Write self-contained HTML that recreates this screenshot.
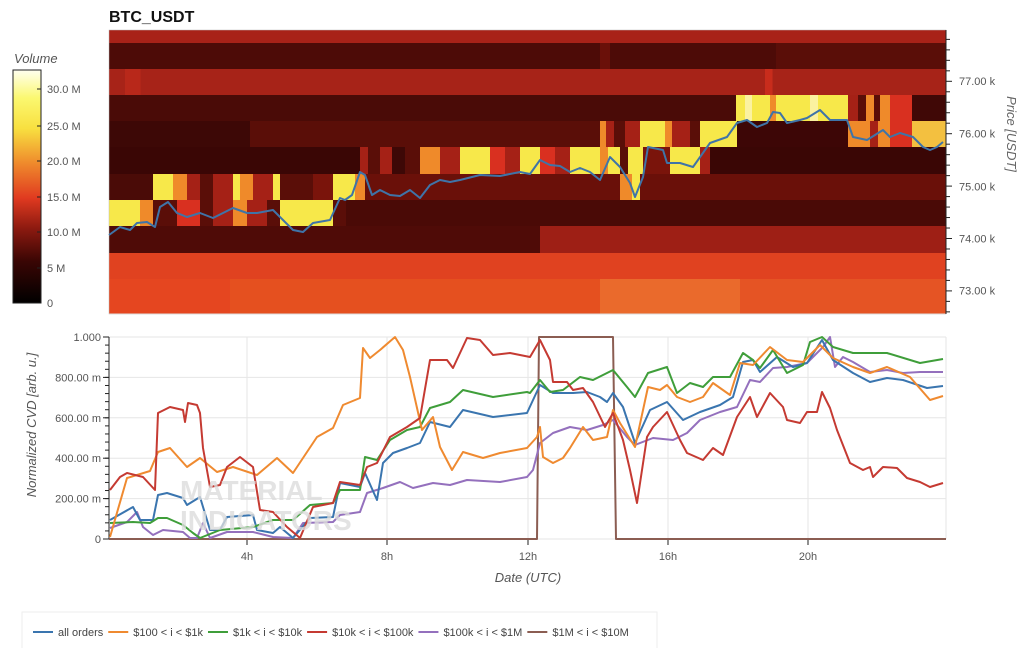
<!DOCTYPE html>
<html><head><meta charset="utf-8"><style>
body{margin:0;background:#fff;width:1023px;height:648px;overflow:hidden;font-family:"Liberation Sans",sans-serif}
svg text{font-family:"Liberation Sans",sans-serif}
</style></head><body>
<svg id="s" width="1023" height="648" xmlns="http://www.w3.org/2000/svg">
<defs>
<linearGradient id="cb" x1="0" y1="1" x2="0" y2="0">
<stop offset="0" stop-color="#000"/><stop offset="0.18" stop-color="#3a0604"/><stop offset="0.32" stop-color="#8c1a10"/><stop offset="0.45" stop-color="#e03a20"/><stop offset="0.6" stop-color="#ef8a2c"/><stop offset="0.75" stop-color="#f8e040"/><stop offset="0.88" stop-color="#fbf870"/><stop offset="1" stop-color="#fffff0"/>
</linearGradient>
</defs>
<text x="109" y="22" font-size="16" font-weight="bold" fill="#111">BTC_USDT</text>
<text x="14" y="63" font-size="13" font-style="italic" fill="#555">Volume</text>
<rect x="13" y="70" width="28" height="233" fill="url(#cb)" stroke="#222" stroke-width="1"/>
<g id="hm"></g>
<g id="price"></g>
<g id="cvd"></g>
</svg>
<script>
const NS="http://www.w3.org/2000/svg",s=document.getElementById('s');
function el(t,a,p){const e=document.createElementNS(NS,t);for(const k in a)e.setAttribute(k,a[k]);(p||s).appendChild(e);return e;}
function tx(x,y,t,a){const e=el('text',Object.assign({x:x,y:y,'font-size':11,fill:'#444'},a||{}));e.textContent=t;return e;}
// colorbar ticks
[["30.0 M",89],["25.0 M",126],["20.0 M",161],["15.0 M",197],["10.0 M",232],["5 M",268],["0",303]].forEach(([t,y])=>{el('line',{x1:37,x2:41,y1:y,y2:y,stroke:'#222'});tx(47,y+4,t,{fill:'#555'});});
const hm=document.getElementById('hm');
const D='#3d0806',M='#5a0e08',R='#a52116',B='#d93020',O='#ef8a2a',Y='#f7e84a',W='#fbf2a0',K='#7a140b';
const rows=[
[30,43,[[109,946,'#a82218']]],
[43,69,[[109,600,'#4d0b07'],[600,610,'#6a1009'],[610,776,'#4d0b07'],[776,946,'#5a0e08']]],
[69,95,[[109,946,'#a72318'],[125,140,'#b8281a'],[620,625,B],[765,772,B],[600,946,'#a72318'],[765,772,'#c82c1c']]],
[95,121,[[109,736,'#4a0b07'],[736,745,Y],[745,752,W],[752,770,Y],[770,776,O],[776,810,Y],[810,818,W],[818,848,Y],[848,858,R],[858,866,M],[866,874,O],[874,880,M],[880,890,O],[890,912,B],[912,946,'#400806']]],
[121,147,[[109,250,D],[250,600,M],[600,606,O],[606,614,R],[614,625,M],[625,640,R],[640,665,Y],[665,672,O],[672,690,R],[690,700,M],[700,737,Y],[737,848,'#3d0606'],[848,870,O],[870,878,R],[878,890,O],[890,912,B],[912,946,'#f3c040']]],
[147,174,[[109,360,'#3a0605'],[360,368,R],[368,380,M],[380,392,R],[392,405,D],[405,420,M],[420,440,O],[440,460,R],[460,490,Y],[490,505,B],[505,520,R],[520,540,Y],[540,555,B],[555,570,R],[570,600,Y],[600,608,O],[608,620,Y],[620,628,M],[628,643,Y],[643,670,K],[670,700,Y],[700,710,R],[710,946,'#3a0605']]],
[174,200,[[109,153,'#4a0b07'],[153,173,Y],[173,187,O],[187,200,R],[200,213,M],[213,233,R],[233,240,Y],[240,253,O],[253,273,R],[273,280,Y],[280,313,M],[313,333,K],[333,355,Y],[355,365,O],[365,620,'#6a1009'],[620,632,O],[632,640,Y],[640,946,'#6a1009']]],
[200,226,[[109,140,Y],[140,153,O],[153,177,M],[177,200,B],[200,213,M],[213,233,R],[233,247,O],[247,267,R],[267,280,M],[280,333,Y],[333,346,M],[346,946,'#4a0a06']]],
[226,253,[[109,540,'#4f0b07'],[540,946,'#9e1f15']]],
[253,279,[[109,946,'#e04220']]],
[279,313,[[109,230,'#e54620'],[230,600,'#e5501f'],[600,740,'#ea6a2c'],[740,946,'#e55424']]]];
rows.forEach(([y1,y2,segs])=>segs.forEach(([a,b,c])=>el('rect',{x:a,y:y1,width:b-a+0.5,height:y2-y1+0.5,fill:c},hm)));
el('rect',{x:109,y:30,width:837,height:284,fill:'none',stroke:'#bbb','stroke-width':0.5},hm);
// price axis
el('line',{x1:946,x2:946,y1:30,y2:314,stroke:'#222'});
for(let p=72600;p<=77900;p+=200){const y=133.7-(p-76000)*0.0524;el('line',{x1:946,x2:(p%1000==0?952:950),y1:y,y2:y,stroke:'#222'});}
[[77,81],[76,133.7],[75,186.3],[74,238.5],[73,290.7]].forEach(([p,y])=>tx(959,y+4,p+'.00 k',{fill:'#555'}));
const pt=tx(0,0,'Price [USDT]',{'font-size':13,'font-style':'italic',fill:'#666',transform:'translate(1007,134) rotate(90)','text-anchor':'middle'});
function pl(pts,c,w,g){el('polyline',{points:pts.map(p=>p.join(',')).join(' '),fill:'none',stroke:c,'stroke-width':w||2,'stroke-linejoin':'round'},g);}
pl([[109,235],[120,227],[130,230],[137,223],[147,222],[155,227],[160,207],[168,202],[177,213],[187,217],[200,213],[213,218],[233,208],[247,213],[257,213],[273,210],[283,220],[293,230],[303,232],[313,223],[330,220],[340,198],[345,200],[352,195],[360,172],[365,175],[372,195],[380,190],[390,195],[400,196],[410,190],[420,198],[430,185],[440,180],[450,182],[460,180],[480,175],[500,176],[520,172],[530,174],[540,160],[550,165],[560,166],[570,172],[580,168],[590,172],[600,180],[610,157],[620,167],[630,183],[635,197],[643,177],[648,147],[663,150],[667,163],[680,163],[693,167],[710,143],[727,137],[737,123],[747,120],[757,127],[767,123],[773,112],[780,113],[787,123],[800,120],[807,118],[820,110],[830,120],[847,120],[853,137],[867,140],[883,130],[890,137],[900,133],[913,137],[923,147],[930,150],[937,147],[943,142]],'#3f74a8',2,document.getElementById('price'));
// CVD axes
const g=document.getElementById('cvd');
[[337,'1.000'],[377.4,'800.00 m'],[417.8,'600.00 m'],[458.2,'400.00 m'],[498.6,'200.00 m'],[539,'0']].forEach(([y,t])=>{el('line',{x1:109,x2:946,y1:y,y2:y,stroke:'#e6e6e6'},g);tx(101,y+4,t,{'text-anchor':'end',fill:'#555'});el('line',{x1:103,x2:109,y1:y,y2:y,stroke:'#222'},g);});
for(let i=0;i<25;i++){const y=337+i*8.08;el('line',{x1:105,x2:109,y1:y,y2:y,stroke:'#222'},g);}
[[247,'4h'],[387,'8h'],[528,'12h'],[668,'16h'],[808,'20h']].forEach(([x,t])=>{el('line',{x1:x,x2:x,y1:337,y2:539,stroke:'#e6e6e6'},g);el('line',{x1:x,x2:x,y1:539,y2:545,stroke:'#222'},g);tx(x,560,t,{'text-anchor':'middle',fill:'#555'});});
el('line',{x1:946,x2:946,y1:337,y2:539,stroke:'#e6e6e6'},g);
el('line',{x1:109,x2:109,y1:337,y2:539,stroke:'#222'},g);
tx(180,500,'MATERIAL',{'font-size':28,'font-weight':'bold',fill:'#ddd',opacity:0.8},g);
tx(180,530,'INDICATORS',{'font-size':28,'font-weight':'bold',fill:'#ddd',opacity:0.8},g);
tx(528,582,'Date (UTC)',{'text-anchor':'middle','font-size':13,'font-style':'italic',fill:'#555'});
tx(0,0,'Normalized CVD [arb. u.]',{'font-size':13,'font-style':'italic',fill:'#555',transform:'translate(36,425) rotate(-90)','text-anchor':'middle'});
const C={b:'#3a75af',o:'#ef8a30',g:'#3f9e3a',r:'#c53a32',p:'#9470bd',n:'#8b5d52'};
pl([[109,539],[537,539],[539,337],[613,337],[616,539],[946,539]],C.n,2,g);
pl([[110,528],[127,522],[137,512],[143,527],[153,535],[163,530],[183,532],[190,538],[197,538],[203,523],[210,538],[227,532],[253,532],[273,537],[293,538],[303,523],[333,522],[340,515],[360,512],[367,493],[383,488],[400,482],[413,488],[433,483],[450,485],[467,480],[500,482],[527,477],[533,470],[540,443],[553,433],[570,427],[587,430],[603,425],[613,420],[627,437],[635,445],[653,438],[673,440],[687,433],[700,420],[720,412],[737,407],[750,380],[760,382],[773,368],[787,367],[807,363],[813,357],[823,347],[830,337],[835,367],[843,357],[853,362],[870,372],[887,370],[903,373],[920,372],[943,372]],C.p,2,g);
pl([[110,520],[133,507],[140,520],[153,520],[158,495],[167,493],[183,498],[187,505],[200,497],[210,530],[220,530],[227,517],[253,515],[257,530],[273,533],[280,527],[293,538],[310,518],[333,517],[340,483],[360,487],[365,473],[377,500],[383,463],[393,453],[407,448],[420,443],[430,422],[450,427],[463,410],[493,417],[527,413],[540,385],[553,393],[573,393],[587,392],[600,397],[607,402],[613,393],[623,407],[635,443],[650,410],[667,402],[683,420],[700,412],[720,405],[733,397],[743,362],[753,360],[760,372],[777,357],[793,367],[807,363],[822,340],[833,360],[853,373],[870,382],[887,378],[903,380],[927,388],[943,386]],C.b,2,g);
pl([[110,523],[133,522],[150,523],[158,518],[167,518],[183,525],[193,533],[200,538],[220,530],[253,527],[273,520],[293,520],[310,505],[333,503],[340,490],[360,490],[365,457],[377,460],[390,440],[407,430],[420,427],[430,408],[450,402],[463,390],[493,397],[527,392],[530,393],[540,380],[550,392],[563,390],[580,377],[593,380],[603,375],[613,370],[627,387],[635,397],[648,373],[667,367],[677,393],[690,383],[703,387],[713,377],[730,377],[743,353],[753,360],[760,368],[773,350],[787,373],[803,365],[810,342],[822,337],[833,347],[853,353],[887,353],[920,363],[943,359]],C.g,2,g);
pl([[110,537],[127,478],[150,471],[158,452],[170,448],[187,467],[200,458],[217,472],[233,467],[257,475],[277,458],[293,473],[317,437],[333,428],[343,405],[360,398],[363,348],[370,358],[380,350],[395,337],[403,350],[410,377],[422,430],[433,417],[440,447],[452,470],[463,452],[483,458],[500,453],[527,448],[537,437],[540,427],[543,457],[553,463],[563,458],[570,448],[583,427],[593,440],[607,437],[613,410],[620,423],[635,447],[648,387],[660,390],[667,385],[677,397],[690,402],[703,397],[713,383],[730,395],[740,363],[753,365],[770,347],[787,360],[803,362],[820,345],[833,358],[853,367],[870,373],[887,367],[910,377],[930,400],[943,396]],C.o,2,g);
pl([[110,490],[120,477],[127,473],[143,477],[155,490],[158,413],[170,407],[183,410],[185,422],[188,403],[197,405],[200,413],[203,448],[210,487],[220,485],[227,467],[240,457],[253,467],[260,510],[273,512],[287,527],[300,538],[313,507],[333,503],[340,482],[360,485],[367,467],[377,463],[390,437],[407,427],[420,418],[430,360],[447,360],[453,368],[467,338],[480,340],[493,355],[510,353],[530,357],[540,340],[550,360],[553,382],[567,382],[573,390],[583,388],[593,402],[605,427],[613,413],[623,440],[630,470],[637,503],[647,437],[653,427],[667,412],[680,440],[687,453],[703,460],[713,448],[723,455],[737,417],[750,397],[757,417],[770,393],[783,407],[787,420],[800,423],[807,412],[817,412],[822,392],[830,408],[837,430],[850,463],[863,470],[870,467],[873,477],[883,467],[897,468],[907,478],[920,482],[930,487],[943,483]],C.r,2,g);
// legend
el('rect',{x:22,y:612,width:635,height:40,fill:'#fff',stroke:'#eee'});
let lx=33;[['all orders',C.b,'all orders'],['$100 < i < $1k',C.o],['$1k < i < $10k',C.g],['$10k < i < $100k',C.r],['$100k < i < $1M',C.p],['$1M < i < $10M',C.n]].forEach(([t,c])=>{el('line',{x1:lx,x2:lx+20,y1:632,y2:632,stroke:c,'stroke-width':2});const e=tx(lx+25,636,t,{fill:'#444'});lx+=25+e.getComputedTextLength()+5;});
</script>
</body></html>
